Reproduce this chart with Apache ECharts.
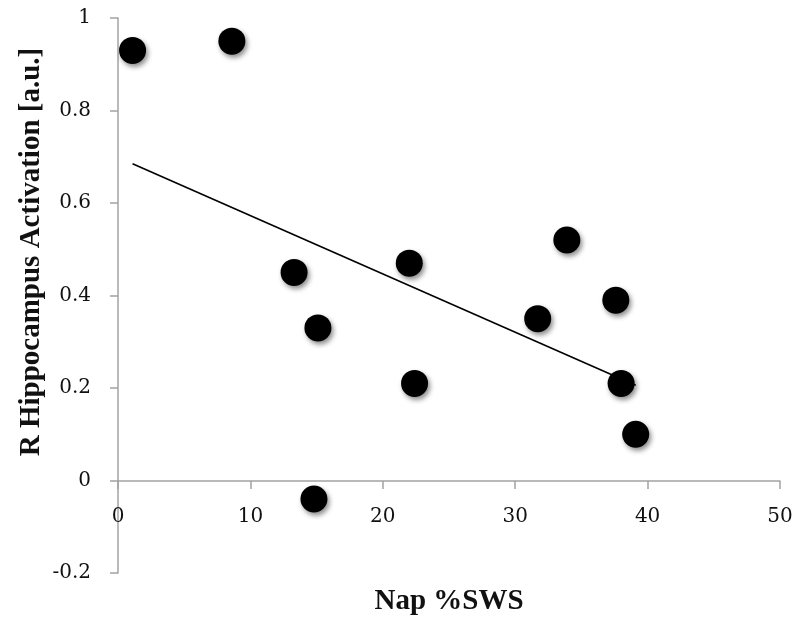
<!DOCTYPE html>
<html>
<head>
<meta charset="utf-8">
<script src="https://cdn.jsdelivr.net/npm/echarts@6/dist/echarts.min.js"></script>
<style>
  html, body { margin: 0; padding: 0; background: #fff; }
  #chart { width: 797px; height: 619px; }
</style>
</head>
<body>
<div id="chart"></div>
<script>
// Nap %SWS vs right hippocampus activation
const napSWS = [1.1, 8.6, 13.3, 15.1, 14.8, 22.0, 22.4, 31.7, 33.9, 37.6, 38.0, 39.1]
const activation = [0.93, 0.95, 0.45, 0.33, -0.04, 0.47, 0.21, 0.35, 0.52, 0.39, 0.21, 0.10]

// linear trend line end points
const trendX = [1.1, 39.1]
const trendY = [0.685, 0.206]

const xTicks = [0, 50, 10]      // min, max, interval
const yTicks = [-0.2, 1, 0.2]

const axisColor = '#a3a3a3'
const tickFont = { fontFamily: 'DejaVu Serif', fontSize: 20, color: '#111' }

const chart = echarts.init(document.getElementById('chart'))
chart.setOption({
  animation: false,
  grid: { left: 118, right: 17, top: 18, bottom: 46, outerBoundsMode: 'none', containLabel: false },
  xAxis: {
    type: 'value',
    min: xTicks[0], max: xTicks[1], interval: xTicks[2],
    // sit the axis on y = 0 (0.2 of the 1.2 span above the grid bottom)
    offset: -92,
    name: 'Nap %SWS',
    nameLocation: 'middle',
    nameGap: 106,
    nameTextStyle: { fontFamily: 'Liberation Serif', fontWeight: 'bold', fontSize: 29, color: '#111' },
    axisLine: { onZero: false, lineStyle: { color: axisColor, width: 1.5 } },
    axisTick: { show: true, inside: false, length: 8, lineStyle: { color: axisColor, width: 1.5 } },
    axisLabel: Object.assign({ margin: 26 }, tickFont),
    splitLine: { show: false }
  },
  yAxis: {
    type: 'value',
    min: yTicks[0], max: yTicks[1], interval: yTicks[2],
    axisLine: { show: true, onZero: false, lineStyle: { color: axisColor, width: 1.5 } },
    axisTick: { show: true, inside: false, length: 8, lineStyle: { color: axisColor, width: 1.5 } },
    axisLabel: Object.assign({ margin: 27, formatter: v => String(+v.toFixed(1)) }, tickFont),
    splitLine: { show: false }
  },
  graphic: [{
    type: 'text',
    x: 32, y: 252,
    rotation: Math.PI / 2,
    style: {
      text: 'R Hippocampus Activation [a.u.]',
      fontFamily: 'Liberation Serif', fontWeight: 'bold', fontSize: 29,
      fill: '#111', textAlign: 'center', textVerticalAlign: 'middle'
    }
  }],
  series: [
    {
      type: 'line',
      data: trendX.map((x, i) => [x, trendY[i]]),
      symbol: 'none',
      lineStyle: { color: '#000', width: 1.6 },
      z: 1
    },
    {
      type: 'scatter',
      data: napSWS.map((x, i) => [x, activation[i]]),
      symbolSize: 27,
      itemStyle: {
        color: '#000',
        opacity: 1,
        shadowBlur: 5,
        shadowColor: 'rgba(0,0,0,0.45)',
        shadowOffsetX: 2,
        shadowOffsetY: 3
      },
      z: 2
    }
  ]
})
</script>
</body>
</html>
